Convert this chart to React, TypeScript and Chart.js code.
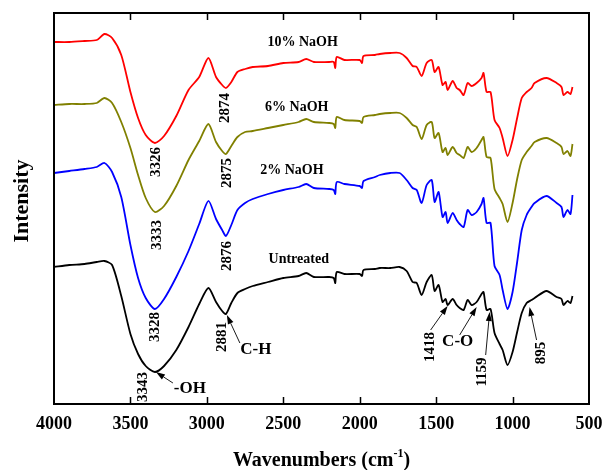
import React, { useEffect, useRef } from "react";
import { Chart, registerables } from "chart.js";
Chart.register(...registerables);

// Wavenumbers (cm^-1) shared by all spectra
const wavenumbers = [
  4000, 3900, 3800, 3720, 3670, 3620, 3560, 3500, 3450, 3400,
  3340, 3280, 3200, 3120, 3050, 2990, 2940, 2900, 2875, 2840,
  2800, 2750, 2700, 2600, 2500, 2400, 2350, 2300, 2200, 2170,
  2160, 2150, 2100, 2000, 1985, 1975, 1900, 1869, 1800, 1739,
  1693, 1654, 1627, 1595, 1562, 1529, 1510, 1484, 1458, 1438,
  1425, 1392, 1366, 1346, 1320, 1294, 1268, 1235, 1203, 1190,
  1170, 1144, 1118, 1085, 1065, 1033, 1000, 970, 940, 908,
  876, 856, 778, 712, 680, 667, 641, 621, 608,
];

// Intensity (a.u., stacked)
const naoh10 = [
  362, 362, 363, 364, 370, 366, 349, 312, 286, 269,
  261, 268, 288, 314, 327, 346, 327, 319, 316, 322,
  332, 335, 337, 338, 341, 342, 345, 342, 342, 342,
  336, 347, 344, 344, 341, 348, 349, 350, 351, 351,
  346, 338, 337, 328, 341, 344, 332, 337, 319, 322,
  314, 323, 316, 314, 309, 321, 318, 321, 326, 331,
  312, 312, 284, 276, 266, 248, 264, 286, 306, 312,
  316, 321, 326, 321, 317, 309, 312, 310, 317,
];
const naoh6 = [
  299, 300, 300, 301, 306, 301, 282, 256, 229, 206,
  192, 198, 218, 244, 263, 280, 262, 253, 250, 258,
  267, 272, 273, 276, 279, 282, 285, 282, 281, 280,
  276, 287, 284, 283, 281, 287, 289, 290, 291, 291,
  286, 279, 277, 265, 279, 282, 266, 271, 252, 256,
  249, 257, 251, 249, 246, 257, 252, 256, 264, 267,
  247, 246, 215, 206, 200, 182, 201, 225, 244, 252,
  258, 262, 266, 261, 257, 250, 253, 248, 260,
];
const naoh2 = [
  231, 233, 235, 237, 241, 232, 207, 159, 126, 106,
  95, 105, 127, 153, 180, 203, 185, 174, 168, 179,
  194, 201, 205, 210, 214, 217, 220, 216, 215, 214,
  210, 222, 220, 218, 216, 223, 227, 229, 231, 231,
  224, 216, 214, 201, 219, 224, 202, 212, 187, 192,
  181, 191, 184, 180, 177, 194, 189, 192, 200, 206,
  181, 181, 138, 129, 114, 95, 112, 142, 174, 189,
  197, 201, 208, 201, 197, 187, 194, 190, 209,
];
const untreated = [
  137, 139, 140, 142, 143, 139, 108, 70, 50, 38,
  32, 38, 54, 77, 100, 116, 102, 93, 90, 101,
  111, 115, 118, 122, 126, 128, 131, 127, 127, 126,
  121, 132, 130, 130, 128, 134, 135, 136, 136, 137,
  133, 122, 121, 109, 122, 129, 113, 119, 102, 105,
  99, 105, 99, 96, 94, 104, 99, 102, 110, 112,
  94, 95, 71, 60, 54, 39, 52, 72, 91, 101,
  104, 106, 113, 107, 105, 99, 103, 101, 108,
];

const seriesNames = ["10% NaOH", "6% NaOH", "2% NaOH", "Untreated"];
const seriesValues = [naoh10, naoh6, naoh2, untreated];
const seriesColors = ["#ff0000", "#808000", "#0000ff", "#000000"];

const xTicks = [4000, 3500, 3000, 2500, 2000, 1500, 1000, 500];

// Text annotations anchored in data coordinates (wavenumber, intensity)
const seriesLabels = [
  { text: "10% NaOH", wn: 2373, y: 362 },
  { text: "6% NaOH", wn: 2412, y: 297 },
  { text: "2% NaOH", wn: 2444, y: 234 },
  { text: "Untreated", wn: 2399, y: 145 },
];
const peakLabels = [
  { text: "3326", wn: 3333, y: 242 },
  { text: "2874", wn: 2882, y: 296 },
  { text: "3333", wn: 3327, y: 169 },
  { text: "2875", wn: 2869, y: 231 },
  { text: "3328", wn: 3340, y: 77 },
  { text: "2876", wn: 2869, y: 148 },
  { text: "3343", wn: 3418, y: 17 },
  { text: "2881", wn: 2902, y: 67 },
  { text: "1418", wn: 1542, y: 57 },
  { text: "1159", wn: 1196, y: 32 },
  { text: "895", wn: 810, y: 51 },
];
const groupLabels = [
  { text: "-OH", wn: 3111, y: 15 },
  { text: "C-H", wn: 2680, y: 54 },
  { text: "C-O", wn: 1359, y: 62 },
];
const arrows = [
  { fromWn: 3222, fromY: 21, toWn: 3333, toY: 32 },
  { fromWn: 2784, fromY: 61, toWn: 2869, toY: 89 },
  { fromWn: 1536, fromY: 74, toWn: 1425, toY: 98 },
  { fromWn: 1346, fromY: 69, toWn: 1235, toY: 97 },
  { fromWn: 1176, fromY: 49, toWn: 1150, toY: 92 },
  { fromWn: 843, fromY: 64, toWn: 889, toY: 97 },
];

const FONT = "'Liberation Serif', 'Times New Roman', serif";

const overlay = {
  id: "overlay",
  afterDraw(chart: any) {
    const { ctx, chartArea: a, scales } = chart;
    const x = scales.x;
    const y = scales.y;
    ctx.save();
    // frame
    ctx.strokeStyle = "#000";
    ctx.lineWidth = 2;
    ctx.strokeRect(a.left, a.top, a.right - a.left, a.bottom - a.top);
    // inward ticks, top and bottom
    ctx.lineWidth = 1.5;
    for (const t of xTicks) {
      const px = Math.round(x.getPixelForValue(t)) + 0.5;
      if (px <= a.left + 2 || px >= a.right - 2) continue;
      ctx.beginPath();
      ctx.moveTo(px, a.top);
      ctx.lineTo(px, a.top + 7);
      ctx.moveTo(px, a.bottom);
      ctx.lineTo(px, a.bottom - 7);
      ctx.stroke();
    }
    ctx.fillStyle = "#000";
    ctx.textAlign = "center";
    ctx.textBaseline = "middle";
    // series labels
    ctx.font = `bold 14px ${FONT}`;
    for (const l of seriesLabels) {
      ctx.fillText(l.text, x.getPixelForValue(l.wn), y.getPixelForValue(l.y));
    }
    // rotated peak labels
    ctx.font = `bold 15px ${FONT}`;
    for (const l of peakLabels) {
      ctx.save();
      ctx.translate(x.getPixelForValue(l.wn), y.getPixelForValue(l.y));
      ctx.rotate(-Math.PI / 2);
      ctx.fillText(l.text, 0, 0);
      ctx.restore();
    }
    // group labels
    ctx.font = `bold 17px ${FONT}`;
    for (const l of groupLabels) {
      ctx.fillText(l.text, x.getPixelForValue(l.wn), y.getPixelForValue(l.y));
    }
    // arrows
    ctx.lineWidth = 0.9;
    for (const ar of arrows) {
      const x1 = x.getPixelForValue(ar.fromWn);
      const y1 = y.getPixelForValue(ar.fromY);
      const x2 = x.getPixelForValue(ar.toWn);
      const y2 = y.getPixelForValue(ar.toY);
      const ang = Math.atan2(y2 - y1, x2 - x1);
      const L = 9, W = 3;
      const bx = x2 - L * Math.cos(ang);
      const by = y2 - L * Math.sin(ang);
      ctx.beginPath();
      ctx.moveTo(x1, y1);
      ctx.lineTo(bx, by);
      ctx.stroke();
      ctx.beginPath();
      ctx.moveTo(x2, y2);
      ctx.lineTo(bx + W * Math.sin(ang), by - W * Math.cos(ang));
      ctx.lineTo(bx - W * Math.sin(ang), by + W * Math.cos(ang));
      ctx.closePath();
      ctx.fill();
    }
    // y-axis title
    ctx.font = `bold 22px ${FONT}`;
    ctx.save();
    ctx.translate(22, 201);
    ctx.rotate(-Math.PI / 2);
    ctx.fillText("Intensity", 0, 0);
    ctx.restore();
    // x-axis title with superscript
    const main = "Wavenumbers (cm";
    const sup = "-1";
    const close = ")";
    ctx.font = `bold 20px ${FONT}`;
    const wMain = ctx.measureText(main).width;
    const wClose = ctx.measureText(close).width;
    ctx.font = `bold 12px ${FONT}`;
    const wSup = ctx.measureText(sup).width;
    const total = wMain + wSup + wClose;
    const cx = (a.left + a.right) / 2;
    let sx = cx - total / 2;
    const ty = 460;
    ctx.textAlign = "left";
    ctx.textBaseline = "alphabetic";
    ctx.font = `bold 20px ${FONT}`;
    ctx.fillText(main, sx, ty + 6);
    sx += wMain;
    ctx.font = `bold 12px ${FONT}`;
    ctx.fillText(sup, sx, ty - 3);
    sx += wSup;
    ctx.font = `bold 20px ${FONT}`;
    ctx.fillText(close, sx, ty + 6);
    ctx.restore();
  },
};

export default function App() {
  const ref = useRef<HTMLCanvasElement | null>(null);
  useEffect(() => {
    if (!ref.current) return;
    const chart = new Chart(ref.current, {
      type: "line",
      data: {
        datasets: seriesNames.map((name, i) => ({
          label: name,
          data: wavenumbers.map((wn, j) => ({ x: wn, y: seriesValues[i][j] })),
          borderColor: seriesColors[i],
          borderWidth: 1.8,
          pointRadius: 0,
          tension: 0.25,
          fill: false,
        })),
      },
      options: {
        animation: false,
        responsive: false,
        devicePixelRatio: 1,
        layout: { padding: { left: 54, top: 13, right: 14, bottom: 0 } },
        plugins: { legend: { display: false }, tooltip: { enabled: false } },
        scales: {
          x: {
            type: "linear",
            reverse: true,
            min: 500,
            max: 4000,
            afterFit: (s: any) => {
              s.height = 66;
              s.paddingLeft = 0;
              s.paddingRight = 0;
            },
            afterBuildTicks: (s: any) => {
              s.ticks = xTicks.map((v) => ({ value: v }));
            },
            grid: { display: false, drawTicks: false },
            border: { display: false },
            ticks: {
              autoSkip: false,
              maxRotation: 0,
              padding: 10,
              color: "#000",
              font: { family: FONT, size: 18, weight: "bold" },
              callback: (v: any) => String(v),
            },
          },
          y: { display: false, min: 0, max: 391 },
        },
      },
      plugins: [overlay],
    });
    return () => chart.destroy();
  }, []);
  return (
    <div style={{ position: "absolute", left: 0, top: 0, width: 603, height: 470, background: "#fff" }}>
      <canvas ref={ref} width={603} height={470} style={{ width: 603, height: 470 }} />
    </div>
  );
}
